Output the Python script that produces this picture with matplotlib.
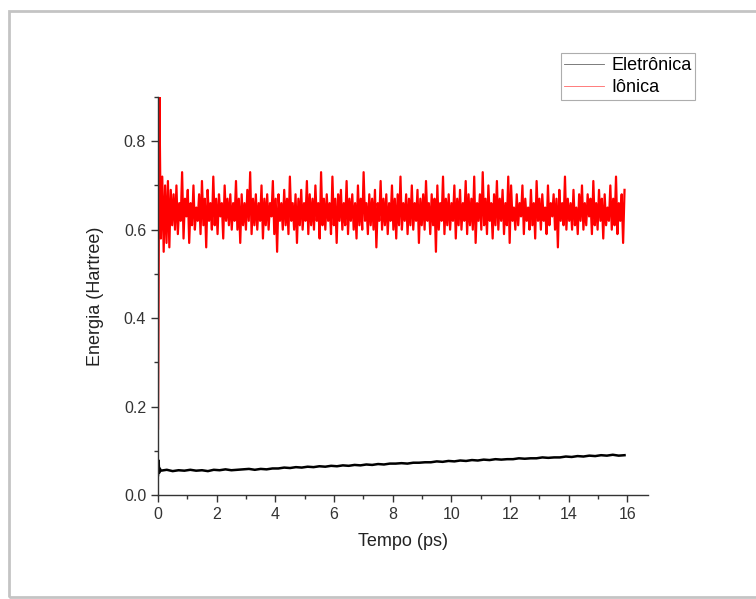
import matplotlib
matplotlib.use("Agg")
import matplotlib.pyplot as plt
from matplotlib.patches import Rectangle
from matplotlib.ticker import MultipleLocator, FormatStrFormatter
import numpy as np

plt.rcParams["font.family"] = ["Liberation Sans", "DejaVu Sans"]

# Iônica (red), start transient then noisy plateau ~0.64
ionica = [
    0.15, 0.90, 0.58, 0.72, 0.55, 0.70, 0.57, 0.71, 0.56, 0.69,
    0.61, 0.68, 0.60, 0.70, 0.59, 0.66, 0.62, 0.73, 0.58, 0.67, 0.63, 0.69, 0.57, 0.66, 0.61, 0.70, 0.60, 0.65, 0.62, 0.68,
    0.59, 0.71, 0.61, 0.67, 0.56, 0.69, 0.62, 0.66, 0.60, 0.72, 0.61, 0.67, 0.59, 0.68, 0.63, 0.66, 0.58, 0.70, 0.62, 0.67,
    0.61, 0.68, 0.60, 0.66, 0.62, 0.71, 0.60, 0.67, 0.57, 0.68, 0.61, 0.66, 0.60, 0.69, 0.62, 0.73, 0.59, 0.67, 0.61, 0.68,
    0.60, 0.66, 0.62, 0.70, 0.58, 0.67, 0.61, 0.68, 0.60, 0.66, 0.63, 0.71, 0.59, 0.67, 0.55, 0.68, 0.62, 0.66, 0.60, 0.69,
    0.61, 0.67, 0.59, 0.72, 0.62, 0.66, 0.60, 0.68, 0.57, 0.67, 0.61, 0.69, 0.60, 0.66, 0.62, 0.71, 0.59, 0.68, 0.61, 0.67,
    0.60, 0.70, 0.62, 0.66, 0.58, 0.73, 0.61, 0.67, 0.60, 0.68, 0.62, 0.66, 0.59, 0.72, 0.61, 0.67, 0.57, 0.68, 0.62, 0.69,
    0.60, 0.66, 0.61, 0.71, 0.59, 0.67, 0.62, 0.68, 0.60, 0.66, 0.58, 0.70, 0.61, 0.67, 0.60, 0.73, 0.62, 0.66, 0.59, 0.68,
    0.61, 0.67, 0.60, 0.69, 0.56, 0.66, 0.62, 0.71, 0.60, 0.67, 0.61, 0.68, 0.59, 0.66, 0.62, 0.70, 0.60, 0.67, 0.58, 0.68,
    0.61, 0.72, 0.60, 0.66, 0.62, 0.68, 0.59, 0.67, 0.61, 0.70, 0.60, 0.66, 0.62, 0.69, 0.57, 0.67, 0.61, 0.68, 0.60, 0.71,
    0.62, 0.66, 0.59, 0.68, 0.61, 0.67, 0.55, 0.70, 0.60, 0.66, 0.62, 0.72, 0.59, 0.67, 0.61, 0.68, 0.60, 0.66, 0.62, 0.70,
    0.58, 0.67, 0.61, 0.69, 0.60, 0.66, 0.62, 0.71, 0.59, 0.68, 0.61, 0.67, 0.60, 0.72, 0.57, 0.66, 0.62, 0.68, 0.60, 0.73,
    0.61, 0.67, 0.59, 0.70, 0.62, 0.66, 0.58, 0.68, 0.61, 0.71, 0.60, 0.67, 0.62, 0.69, 0.59, 0.66, 0.61, 0.72, 0.57, 0.70,
    0.62, 0.65, 0.60, 0.68, 0.61, 0.66, 0.63, 0.70, 0.59, 0.67, 0.62, 0.65, 0.60, 0.69, 0.61, 0.66, 0.58, 0.71, 0.62, 0.67,
    0.60, 0.68, 0.62, 0.65, 0.59, 0.70, 0.61, 0.66, 0.63, 0.68, 0.60, 0.67, 0.56, 0.69, 0.62, 0.66, 0.61, 0.72, 0.60, 0.67,
    0.62, 0.66, 0.60, 0.69, 0.61, 0.65, 0.59, 0.68, 0.62, 0.70, 0.60, 0.66, 0.61, 0.68, 0.63, 0.67, 0.59, 0.71, 0.61, 0.66,
    0.60, 0.69, 0.62, 0.67, 0.58, 0.68, 0.61, 0.65, 0.62, 0.70, 0.60, 0.67, 0.61, 0.72, 0.59, 0.66, 0.62, 0.68, 0.57, 0.69,
]

# Eletrônica (black) - slow linear drift with small noise
eletronica = [
    0.045, 0.078, 0.050, 0.060,
    0.055, 0.057, 0.054, 0.056, 0.055, 0.057, 0.055, 0.056, 0.054, 0.057,
    0.056, 0.058, 0.056, 0.057, 0.058, 0.059, 0.057, 0.059, 0.058, 0.060,
    0.060, 0.062, 0.061, 0.063, 0.062, 0.064, 0.063, 0.065, 0.064, 0.066,
    0.065, 0.067, 0.066, 0.068, 0.067, 0.069, 0.068, 0.070, 0.069, 0.071,
    0.071, 0.072, 0.071, 0.073, 0.073, 0.074, 0.074, 0.076, 0.075, 0.077,
    0.076, 0.078, 0.077, 0.079, 0.078, 0.080, 0.079, 0.081, 0.080, 0.081,
    0.081, 0.083, 0.082, 0.083, 0.083, 0.085, 0.084, 0.085, 0.085, 0.087,
    0.086, 0.088, 0.087, 0.089, 0.088, 0.090, 0.089, 0.091, 0.089, 0.090,
]

T_END = 15.9
t_ion = np.linspace(0, T_END, len(ionica))
t_ele = np.concatenate([np.linspace(0, 0.06, 4), np.linspace(0.1, T_END, len(eletronica) - 4)])

fig = plt.figure(figsize=(7.56, 5.99), dpi=100)
fig.patch.set_facecolor("white")

# screenshot frame around the plot
fig.patches.append(Rectangle((9 / 756, 1 - 597 / 599), 760 / 756, 586 / 599,
                             transform=fig.transFigure, fill=False,
                             edgecolor="#c4c4c4", linewidth=2.0))

ax = fig.add_axes([158 / 756, 1 - 495 / 599, 490 / 756, 398 / 599])

ax.plot(t_ele, eletronica, color="black", linewidth=1.8, label="Eletrônica")
ax.plot(t_ion, ionica, color="#ff0000", linewidth=1.6, label="Iônica")

ax.set_xlim(0, 16.7)
ax.set_ylim(0, 0.9)
ax.xaxis.set_major_locator(MultipleLocator(2))
ax.xaxis.set_minor_locator(MultipleLocator(1))
ax.yaxis.set_major_locator(MultipleLocator(0.2))
ax.yaxis.set_minor_locator(MultipleLocator(0.1))
ax.yaxis.set_major_formatter(FormatStrFormatter("%.1f"))
ax.tick_params(which="major", direction="out", length=5, width=1, labelsize=11.5,
               colors="#333333")
ax.tick_params(which="minor", direction="out", length=3, width=1, colors="#333333")

ax.spines[["top", "right"]].set_visible(False)
for s in ["left", "bottom"]:
    ax.spines[s].set_color("#333333")
    ax.spines[s].set_linewidth(1.0)

ax.set_xlabel("Tempo (ps)", fontsize=13, color="#222222", labelpad=8)
ax.set_ylabel("Energia (Hartree)", fontsize=13, color="#222222", labelpad=14)

leg = ax.legend(loc="upper right", bbox_to_anchor=(1.096, 1.11), fontsize=13,
                frameon=True, fancybox=False, handlelength=2.2,
                borderpad=0.2, labelspacing=0.3, handletextpad=0.4,
                borderaxespad=0)
leg.get_frame().set_edgecolor("#999999")
leg.get_frame().set_linewidth(0.8)
for line in leg.get_lines():
    line.set_linewidth(0.6)
    line.set_alpha(0.6)

plt.savefig("out.png", dpi=100)
